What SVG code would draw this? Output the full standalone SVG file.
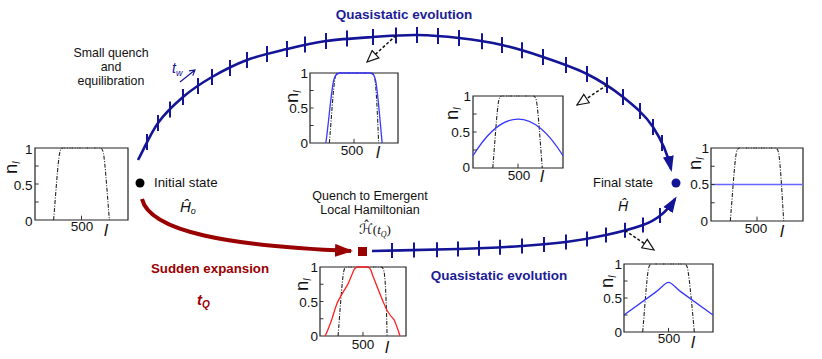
<svg xmlns="http://www.w3.org/2000/svg" width="822" height="359" viewBox="0 0 822 359">
<defs>
<style>
text{font-family:"Liberation Sans",Arial,sans-serif;fill:#111}
.lbl{font-size:13.3px}
.tk{font-size:13.5px;text-anchor:end}
.tkx{font-size:13.5px;text-anchor:middle}
.ax{font-size:17px;font-style:italic}
.nl{font-size:18.5px}
.sub{font-size:10px;font-style:italic}
.frame{fill:none;stroke:#222;stroke-width:1.2}
.plat{fill:none;stroke:#9a9a9a;stroke-width:1.6;stroke-dasharray:1.5,1}
.step{fill:none;stroke:#222;stroke-width:1.1;stroke-dasharray:4,1.5,1,1.5}
.ptick{fill:none;stroke:#333;stroke-width:1}
.bl{fill:none;stroke:#3838ff;stroke-width:1.3}
.rd{fill:none;stroke:#ff2020;stroke-width:1.3}
.ns{vector-effect:non-scaling-stroke}
.arc{fill:none;stroke:#141496;stroke-width:2.6}
.ticks{fill:none;stroke:#141496;stroke-width:2}
.dash{fill:none;stroke:#111;stroke-width:1.5;stroke-dasharray:3,2;marker-end:url(#open)}
</style>
<marker id="open" markerUnits="userSpaceOnUse" markerWidth="14" markerHeight="12" viewBox="0 0 14 12" refX="12.5" refY="6" orient="auto">
<path d="M1,1 L12.5,6 L1,11 Z" fill="#fff" stroke="#111" stroke-width="1.2"/>
</marker>
<marker id="bh" markerUnits="userSpaceOnUse" markerWidth="16" markerHeight="12" viewBox="0 0 16 12" refX="13" refY="6" orient="auto">
<path d="M0,0.5 L16,6 L0,11.5 Z" fill="#141496"/>
</marker>
<marker id="rh" markerUnits="userSpaceOnUse" markerWidth="18" markerHeight="13" viewBox="0 0 18 13" refX="16" refY="6.5" orient="auto">
<path d="M0,0 L18,6.5 L0,13 Z" fill="#990000"/>
</marker>
</defs>
<rect width="822" height="359" fill="#fff"/>

<g id="connectors">
<path class="arc" marker-end="url(#bh)" d="M138,160 C144.7,147.7 150.5,133.5 158,123 C165.5,112.5 174,104.7 183,97 C192,89.3 201.3,83.2 212,77 C222.7,70.8 234.5,64.7 247,60 C259.5,55.3 273.8,52.2 287,49 C300.2,45.8 311.7,43 326,41 C340.3,39 357.8,38 373,37 C388.2,36 402.7,34.8 417,35 C431.3,35.2 444.8,36.3 459,38 C473.2,39.7 488,41.8 502,45 C516,48.2 528.8,52.2 543,57 C557.2,61.8 573.7,67.3 587,74 C600.3,80.7 612,88.2 623,97 C634,105.8 644.8,114.5 653,127 C661.2,139.5 668,155 671,169"/>
<path class="ticks" d="M147,134v16M158,115v16M170,101.5v16M183,89v16M198,78v16M212,69v16M230,60v16M247,52v16M267,46v16M287,41v16M305,36.5v16M326,33v16M347,30.5v16M373,29v16M396,27.5v16M417,27v16M438,28v16M459,30v16M482,33.3v16M502,37v16M522,42.3v16M543,49v16M566,57v16M587,66v16M607,77v16M623,89v16M640,103v16M653,119v16M662,135v16"/>
<path fill="none" stroke="#990000" stroke-width="4" marker-end="url(#rh)" d="M142,199 C150,232 230,246 351,251"/>
<path class="arc" marker-end="url(#bh)" d="M372,251 C400.7,250.3 433,249.8 458,249 C483,248.2 504,247.2 522,246 C540,244.8 552,243.8 566,242 C580,240.2 593.2,237.8 606,235 C618.8,232.2 633.8,228.3 643,225 C652.2,221.7 655.7,219.3 661,215 C666.3,210.7 671.5,204.5 675,199"/>
<path class="ticks" d="M392,243v15M414,242.6v15M437,242.2v15M458,241.5v15M479,240.8v15M500,239.8v15M522,238.5v15M544,237v15M566,234.5v15M587,231.4v15M606,227.5v15M625,222.8v15M643,217.5v15M660,208v15"/>
<path class="dash" d="M396,35.5 L367,62"/>
<path class="dash" d="M607,85 L577,105"/>
<path class="dash" d="M625,230.5 L654,250"/>
<path fill="none" stroke="#141496" stroke-width="1.2" d="M180,82 L195,70 M189.1,70.9 L195,70 L192.8,75.6"/>
</g>

<g id="labels">
<text x="404" y="19" text-anchor="middle" font-size="13.5" font-weight="bold" style="fill:#1c1c96">Quasistatic evolution</text>
<text x="499" y="280" text-anchor="middle" font-size="13.5" font-weight="bold" style="fill:#1c1c96">Quasistatic evolution</text>
<text x="210" y="273" text-anchor="middle" font-size="13.3" font-weight="bold" style="fill:#9a0000">Sudden expansion</text>
<text x="197" y="305" font-size="15" font-weight="bold" font-style="italic" style="fill:#9a0000">t<tspan font-size="10" dy="3">Q</tspan></text>
<text x="111" y="57" text-anchor="middle" font-size="12.4">Small quench</text>
<text x="111" y="71" text-anchor="middle" font-size="12.4">and</text>
<text x="111" y="85" text-anchor="middle" font-size="12.4">equilibration</text>
<text x="172" y="73" font-size="14" font-style="italic" style="fill:#141496">t<tspan font-size="9" dy="3">w</tspan></text>
</g>

<g id="initial-state">
<circle cx="140" cy="183" r="4.5" fill="#000"/>
<text class="lbl" x="154" y="187">Initial state</text>
<text x="180" y="212" font-size="15" font-style="italic">Ĥ<tspan font-size="9" dy="2">o</tspan></text>
</g>

<g id="final-state">
<circle cx="676" cy="183" r="4.5" fill="#141496"/>
<text x="593" y="187" font-size="13">Final state</text>
<text x="618" y="211" font-size="14" font-style="italic">Ĥ</text>
</g>

<g id="quench-node">
<rect x="358" y="247" width="9" height="9" fill="#990000"/>
<text x="370" y="200" text-anchor="middle" font-size="12.5">Quench to Emergent</text>
<text x="370" y="214" text-anchor="middle" font-size="12.5">Local Hamiltonian</text>
<text x="359" y="234" font-size="14" style="font-family:'DejaVu Sans',sans-serif">ℋ̂<tspan style="font-family:'Liberation Serif',serif" font-size="13">(</tspan><tspan style="font-family:'Liberation Serif',serif" font-size="13" font-style="italic">t</tspan><tspan style="font-family:'Liberation Serif',serif" font-size="8" font-style="italic" dy="3">Q</tspan><tspan style="font-family:'Liberation Serif',serif" font-size="13" dy="-3">)</tspan></text>
</g>

<g id="plot-initial">
<g transform="translate(35,220) scale(0.93,-0.72)">
<path class="step ns" d="M20,0 C22,30 24.5,80 26.5,93 Q27.5,100 30,100 L70,100 Q72.5,100 73.5,93 C75.5,80 78,30 80,0"/>
<rect class="frame ns" x="0" y="0" width="100" height="100"/>
<path class="plat ns" d="M30,100H70"/>
<path class="ptick ns" d="M0,25h4M0,50h4M0,75h4M50,0v6"/>
</g>
<text class="tk" x="32.5" y="154">1</text>
<text class="tk" x="32.5" y="190">0.5</text>
<text class="tk" x="32.5" y="226">0</text>
<text class="tkx" x="82" y="231">500</text>
<text class="ax" x="104" y="236">l</text>
<text class="nl" transform="translate(17,174) rotate(-90)">n<tspan class="sub" dy="3">l</tspan></text>
</g>

<g id="plot-top-1">
<g transform="translate(310,143) scale(0.88,-0.70)">
<path class="step ns" d="M22,0 C24,30 26.5,80 28.5,93 Q29.5,100 32,100 L70,100 Q72.5,100 73.5,93 C75.5,80 77,30 78,0"/>
<rect class="frame ns" x="0" y="0" width="100" height="100"/>
<path class="plat ns" d="M32,100H70"/>
<path class="bl ns" d="M18,0 C21,25 24,75 27,90 Q29,100 34,100 L68,100 Q73,100 74.5,90 C77,75 80,25 82,0"/>
<path class="ptick ns" d="M0,25h4M0,50h4M0,75h4M50,0v6"/>
</g>
<text class="tk" x="308" y="78">1</text>
<text class="tk" x="308" y="113">0.5</text>
<text class="tk" x="308" y="148">0</text>
<text class="tkx" x="352" y="155">500</text>
<text class="ax" x="376" y="158">l</text>
<text class="nl" transform="translate(298,103) rotate(-90)">n<tspan class="sub" dy="3">l</tspan></text>
</g>

<g id="plot-top-2">
<g transform="translate(473,168) scale(0.90,-0.72)">
<path class="step ns" d="M22,0 C24,30 26.5,80 28.5,93 Q29.5,100 32,100 L67,100 Q69.5,100 70.5,93 C72.5,80 75,30 77,0"/>
<rect class="frame ns" x="0" y="0" width="100" height="100"/>
<path class="plat ns" d="M32,100H67"/>
<path class="bl ns" d="M0,17 Q50,119 100,17"/>
<path class="ptick ns" d="M0,25h4M0,50h4M0,75h4M50,0v6"/>
</g>
<text class="tk" x="471" y="101">1</text>
<text class="tk" x="470" y="137">0.5</text>
<text class="tk" x="470" y="172">0</text>
<text class="tkx" x="519" y="180">500</text>
<text class="ax" x="540" y="182">l</text>
<text class="nl" transform="translate(458,120) rotate(-90)">n<tspan class="sub" dy="3">l</tspan></text>
</g>

<g id="plot-final">
<g transform="translate(711,221) scale(0.92,-0.73)">
<path class="step ns" d="M21,0 C23,30 25.5,80 27.5,93 Q28.5,100 31,100 L70,100 Q72.5,100 73.5,93 C75.5,80 77.5,30 79,0"/>
<rect class="frame ns" x="0" y="0" width="100" height="100"/>
<path class="plat ns" d="M31,100H70"/>
<path class="ns" fill="none" stroke="#6464ff" stroke-width="1.3" d="M0,50H100"/>
<path class="ptick ns" d="M0,25h4M0,50h4M0,75h4M50,0v6"/>
</g>
<text class="tk" x="709" y="153">1</text>
<text class="tk" x="709" y="189">0.5</text>
<text class="tk" x="708" y="226">0</text>
<text class="tkx" x="756" y="233">500</text>
<text class="ax" x="780" y="237">l</text>
<text class="nl" transform="translate(701,170) rotate(-90)">n<tspan class="sub" dy="3">l</tspan></text>
</g>

<g id="plot-quench">
<g transform="translate(320,336) scale(0.86,-0.69)">
<path class="step ns" d="M21,0 C23,30 25.5,80 27.5,93 Q28.5,100 31,100 L71,100 Q73.5,100 74.5,93 C76.5,80 77.5,30 78,0"/>
<rect class="frame ns" x="0" y="0" width="100" height="100"/>
<path class="plat ns" d="M31,100H71"/>
<path class="rd ns" d="M6,0 C9,8 12,18 14,25 C16,33 18,42 20,48 C24,58 28,66 32,74 C35,82 38,92 40,97 Q41.5,100 44,100 L55,100 Q57.5,100 59,96 C61,88 63,82 65,76 C68,66 71,57 74,48 C77,38 81,30 86,24 C89,16 91,8 93,0"/>
<path class="ptick ns" d="M0,25h4M0,50h4M0,75h4M50,0v6"/>
</g>
<text class="tk" x="318" y="272">1</text>
<text class="tk" x="318" y="307">0.5</text>
<text class="tk" x="318" y="341">0</text>
<text class="tkx" x="363" y="349">500</text>
<text class="ax" x="385" y="353">l</text>
<text class="nl" transform="translate(308,291) rotate(-90)">n<tspan class="sub" dy="3">l</tspan></text>
</g>

<g id="plot-bottom">
<g transform="translate(624,332) scale(0.89,-0.68)">
<path class="step ns" d="M21,0 C23,30 25.5,80 27.5,93 Q28.5,100 31,100 L68,100 Q70.5,100 71.5,93 C73.5,80 77,30 79,0"/>
<rect class="frame ns" x="0" y="0" width="100" height="100"/>
<path class="plat ns" d="M31,100H68"/>
<path class="bl ns" d="M0,25 L36,59 C42,64.6 46,73 50,73 C54,73 58,64.6 64,59 L100,25"/>
<path class="ptick ns" d="M0,25h4M0,50h4M0,75h4M50,0v6"/>
</g>
<text class="tk" x="622" y="269">1</text>
<text class="tk" x="622" y="303">0.5</text>
<text class="tk" x="622" y="337">0</text>
<text class="tkx" x="669" y="343">500</text>
<text class="ax" x="691" y="348">l</text>
<text class="nl" transform="translate(613,288) rotate(-90)">n<tspan class="sub" dy="3">l</tspan></text>
</g>
</svg>
